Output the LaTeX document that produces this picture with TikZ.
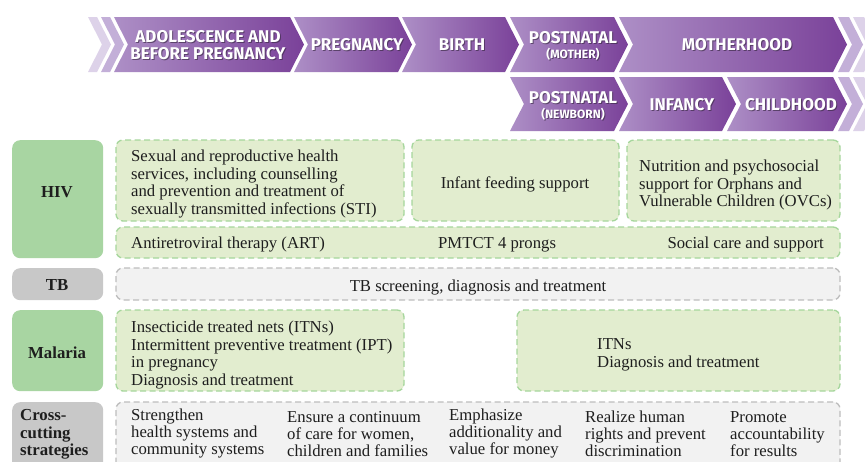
\documentclass[tikz,border=0pt]{standalone}
\usepackage{fontspec}
\setmainfont{Liberation Serif}
\newfontfamily\phasefont{Fira Sans}
\usetikzlibrary{calc}

\definecolor{purpL}{HTML}{AD8FC6}
\definecolor{purpD}{HTML}{7A4199}
\definecolor{stripeA}{HTML}{DDD2E9}
\definecolor{stripeB}{HTML}{C3AFD8}
\definecolor{labgreen}{HTML}{A8D5A2}
\definecolor{boxgreen}{HTML}{E2EDCF}
\definecolor{dashgreen}{HTML}{A6D69C}
\definecolor{labgray}{HTML}{C8C8C8}
\definecolor{boxgray}{HTML}{F2F2F2}
\definecolor{dashgray}{HTML}{BDBDBD}
\definecolor{inktext}{HTML}{1E1E1E}
\definecolor{shadowink}{HTML}{3A2A44}

% chevron band: left-top x, right-top x, top y, bottom y (point depth 14)
\newcommand\chevshade[4]{%
  \shade[left color=purpL, right color=purpD]
    (#1,#3) -- (#2,#3) -- ({#2+14},{(#3+#4)/2}) -- (#2,#4) -- (#1,#4)
    -- ({#1+14},{(#3+#4)/2}) -- cycle;}
\newcommand\chevfill[5]{%
  \fill[#5]
    (#1,#3) -- (#2,#3) -- ({#2+14},{(#3+#4)/2}) -- (#2,#4) -- (#1,#4)
    -- ({#1+14},{(#3+#4)/2}) -- cycle;}
% white phase caption with a soft dark drop shadow
\newcommand\phaselabel[3]{%
  \node[phase, text=shadowink, opacity=0.65] (#1s) at ($(#2)+(1,1)$) {#3};
  \node[phase] (#1) at (#2) {#3};}
\newcommand\smallcap[1]{{\fontsize{12}{13}\selectfont #1}}

\begin{document}
\begin{tikzpicture}[x=1pt, y=-1pt,
  phase/.style={font=\phasefont\bfseries\fontsize{17}{17.5}\selectfont,
    text=white, align=center, inner sep=0},
  panel/.style={rounded corners=7pt, line width=1.3pt,
    dash pattern=on 6pt off 3.5pt, anchor=north west, inner sep=0, outer sep=0},
  greenpanel/.style={panel, draw=dashgreen, fill=boxgreen},
  graypanel/.style={panel, draw=dashgray, fill=boxgray},
  tag/.style={rounded corners=8pt, anchor=north west, inner sep=0,
    minimum width=91pt},
  greentag/.style={tag, fill=labgreen},
  graytag/.style={tag, fill=labgray},
  tagtext/.style={font=\bfseries\fontsize{16.8}{17.5}\selectfont,
    text=inktext, align=left, inner sep=0},
  body/.style={font=\fontsize{16.7}{17.5}\selectfont, text=inktext,
    align=left, inner sep=0},
]
\useasboundingbox (0,0) rectangle (865,461);
\clip (0,0) rectangle (865,461);
\fill[white] (0,0) rectangle (865,461);

% ---- life-course phases, first row
\chevfill{88}{97}{17}{72}{stripeA}
\chevfill{101}{110}{17}{72}{stripeB}
\chevshade{114}{290}{17}{72}
\chevshade{294}{398}{17}{72}
\chevshade{402}{505}{17}{72}
\chevshade{510}{614}{17}{72}
\chevshade{619}{833}{17}{72}
\chevfill{838}{849}{17}{72}{stripeB}
\chevfill{853}{864}{17}{72}{stripeA}

% ---- second row
\chevshade{510}{614}{77}{131}
\chevshade{619}{722}{77}{131}
\chevshade{727}{833}{77}{131}
\chevfill{838}{849}{77}{131}{stripeB}
\chevfill{853}{864}{77}{131}{stripeA}

\phaselabel{adol}{208,45}{ADOLESCENCE AND\\BEFORE PREGNANCY}
\phaselabel{preg}{357,45}{PREGNANCY}
\phaselabel{birth}{462,45}{BIRTH}
\phaselabel{pnm}{573,46}{POSTNATAL\\[-3pt]\smallcap{(MOTHER)}}
\phaselabel{moth}{737,45}{MOTHERHOOD}
\phaselabel{pnn}{573,106}{POSTNATAL\\[-3pt]\smallcap{(NEWBORN)}}
\phaselabel{inf}{682,105}{INFANCY}
\phaselabel{child}{791,105}{CHILDHOOD}

% ---- row tags
\node[greentag, minimum height=118pt] (hivtag) at (12,140) {};
\node[graytag,  minimum height=32pt]  (tbtag)  at (12,268) {};
\node[greentag, minimum height=81pt]  (maltag) at (12,310) {};
\node[graytag,  minimum height=80pt]  (crosstag) at (12,402) {};
\node[tagtext] (hivname) at (57,192) {HIV};
\node[tagtext] (tbname) at (57,285) {TB};
\node[tagtext] (malname) at (57,353) {Malaria};
\node[tagtext, anchor=west] (crossname) at (20,434.5) {Cross-\\cutting\\strategies};

% ---- HIV interventions
\node[greenpanel, minimum width=288pt, minimum height=81pt] (hivA) at (116,140) {};
\node[greenpanel, minimum width=207pt, minimum height=81pt] (hivB) at (412,140) {};
\node[greenpanel, minimum width=213pt, minimum height=81pt] (hivC) at (627,140) {};
\node[greenpanel, minimum width=724pt, minimum height=31pt] (art) at (116,227) {};

\node[body, anchor=west] (srh) at (131,184) {Sexual and reproductive health\\services, including counselling\\and prevention and treatment of\\sexually transmitted infections (STI)};
\node[body] (feed) at (515,184) {Infant feeding support};
\node[body, anchor=west] (ovc) at (639,185) {Nutrition and psychosocial\\support for Orphans and\\Vulnerable Children (OVCs)};
\node[body, anchor=west] (arttext) at (131,244.5) {Antiretroviral therapy (ART)};
\node[body, anchor=west] (pmtct) at (438,244.5) {PMTCT 4 prongs};
\node[body, anchor=east] (social) at (824,244.5) {Social care and support};

% ---- TB
\node[graypanel, minimum width=724pt, minimum height=32pt] (tbp) at (116,268) {};
\node[body] (tbtext) at (478,288) {TB screening, diagnosis and treatment};

% ---- Malaria
\node[greenpanel, minimum width=288pt, minimum height=81pt] (malA) at (116,310) {};
\node[greenpanel, minimum width=323pt, minimum height=81pt] (malB) at (517,310) {};
\node[body, anchor=west] (maltext) at (131,355) {Insecticide treated nets (ITNs)\\Intermittent preventive treatment (IPT)\\in pregnancy\\Diagnosis and treatment};
\node[body, anchor=west] (itn) at (597,355) {ITNs\\Diagnosis and treatment};

% ---- cross-cutting strategies
\node[graypanel, minimum width=724pt, minimum height=80pt] (crossp) at (116,402) {};
\node[body, anchor=west, font=\fontsize{16.7}{17}\selectfont] (cs1) at (131,434) {Strengthen\\health systems and\\community systems};
\node[body, anchor=west, font=\fontsize{16.7}{17}\selectfont] (cs2) at (287,434) {Ensure a continuum\\of care for women,\\children and families};
\node[body, anchor=west, font=\fontsize{16.7}{17}\selectfont] (cs3) at (449,434) {Emphasize\\additionality and\\value for money};
\node[body, anchor=west, font=\fontsize{16.7}{17}\selectfont] (cs4) at (585,434) {Realize human\\rights and prevent\\discrimination};
\node[body, anchor=west, font=\fontsize{16.7}{17}\selectfont] (cs5) at (730,434) {Promote\\accountability\\for results};
\end{tikzpicture}
\end{document}
